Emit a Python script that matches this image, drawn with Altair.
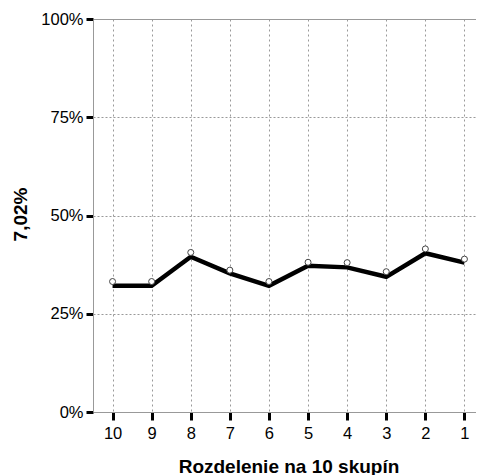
import altair as alt
import pandas as pd

groups = ["10", "9", "8", "7", "6", "5", "4", "3", "2", "1"]
line_values = [32.1, 32.1, 39.5, 35.3, 32.1, 37.2, 36.8, 34.4, 40.4, 38.0]
point_values = [33.2, 33.2, 40.6, 36.1, 33.2, 38.1, 38.0, 35.7, 41.5, 38.9]
y_ticks = [0, 25, 50, 75, 100]

df = pd.DataFrame({
    "group": groups,
    "line": [v / 100 for v in line_values],
    "point": [v / 100 for v in point_values],
})

FONT = "Liberation Sans"

x = alt.X(
    "group:O",
    sort=groups,
    scale=alt.Scale(type="point", padding=0.5),
    axis=alt.Axis(
        title="Rozdelenie na 10 skupín",
        labelAngle=0,
        grid=True,
        gridDash=[2, 3],
        gridColor="#999999",
        gridWidth=1,
        domainColor="#999999",
        domainWidth=1,
        tickColor="black",
        tickWidth=3,
        tickSize=8,
        labelPadding=5,
        labelFont=FONT,
        labelFontSize=16.5,
        labelColor="black",
        titleFont=FONT,
        titleFontSize=19,
        titleFontWeight="bold",
        titleColor="black",
        titleBaseline="middle",
        titleY=54,
    ),
)

y_axis = alt.Axis(
    title="7,02%",
    values=[v / 100 for v in y_ticks],
    format=".0%",
    grid=True,
    gridDash=[2, 2],
    gridColor="#999999",
    gridWidth=1,
    domainColor="#999999",
    domainWidth=1,
    tickColor="black",
    tickWidth=3,
    tickSize=7,
    labelPadding=3,
    labelFont=FONT,
    labelFontSize=16.5,
    labelColor="black",
    titleFont=FONT,
    titleFontSize=19,
    titleFontWeight="bold",
    titleColor="black",
    titleAngle=270,
    titleAlign="center",
    titleBaseline="middle",
    titleX=-73,
    titleY=195,
)

base = alt.Chart(df).encode(x=x)

line = base.mark_line(color="black", strokeWidth=4.5).encode(
    y=alt.Y("line:Q", scale=alt.Scale(domain=[0, 1], nice=False), axis=y_axis)
)

points = base.mark_point(
    shape="circle", size=36, filled=False, fill="white", fillOpacity=1,
    stroke="#444444", strokeWidth=1, opacity=1
).encode(y=alt.Y("point:Q"))

chart = (
    alt.layer(line, points)
    .properties(
        width=391,
        height=393,
        autosize=alt.AutoSizeParams(type="none"),
        padding={"left": 85, "top": 11, "right": -8, "bottom": 63},
    )
    .configure_view(stroke="#999999", strokeWidth=1)
)

chart.save("out.html", embed_options={"renderer": "svg", "actions": False})
